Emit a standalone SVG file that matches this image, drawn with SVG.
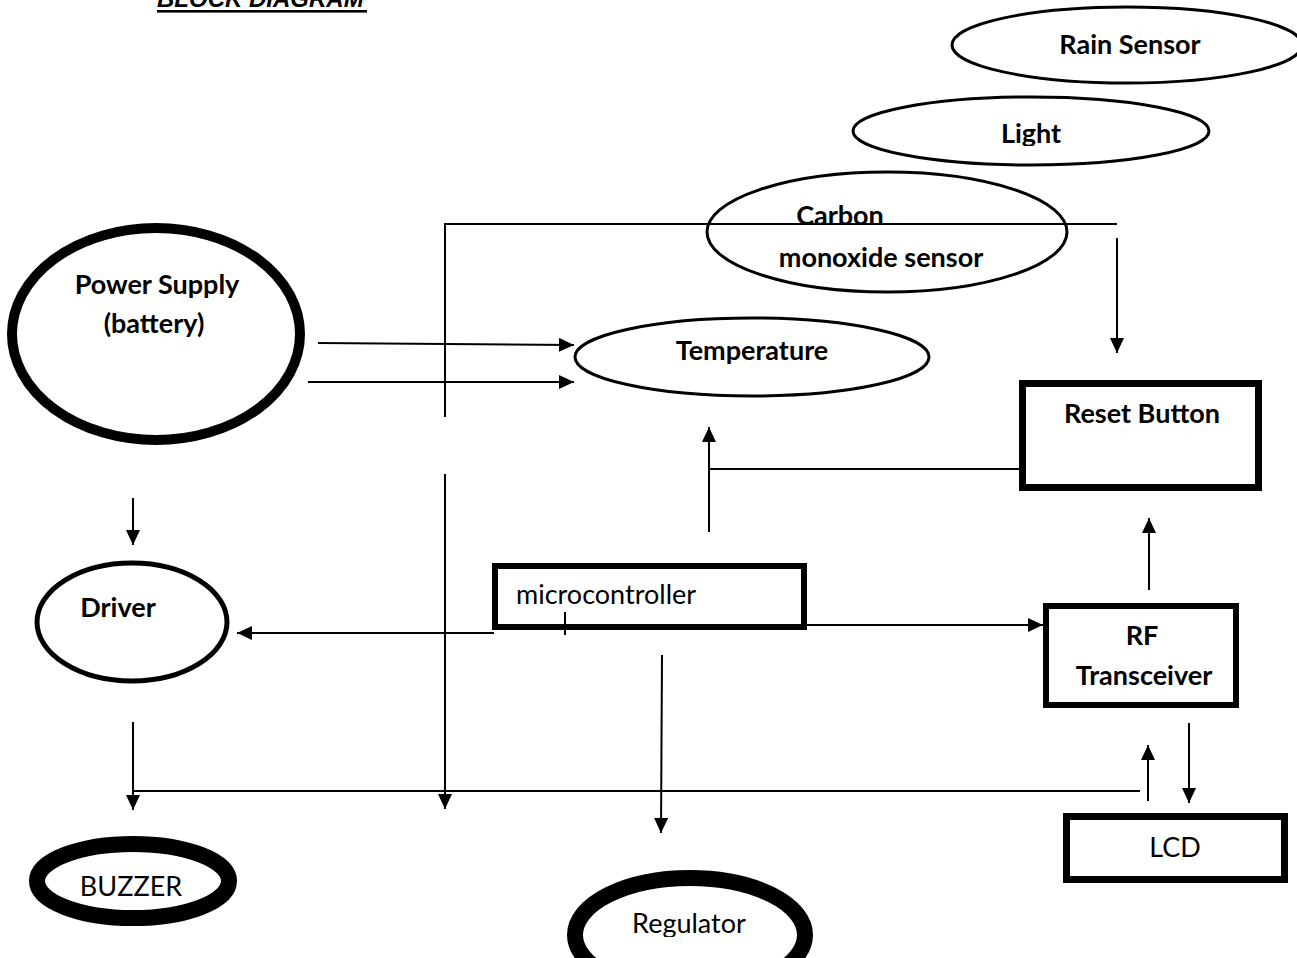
<svg xmlns="http://www.w3.org/2000/svg" width="1297" height="958" viewBox="0 0 1297 958">
<style>
.bg{fill:#fff}
.thin{fill:none;stroke:#000;stroke-width:3}
.mid{fill:none;stroke:#000;stroke-width:5}
.thick{fill:none;stroke:#000;stroke-width:10}
.heavy{fill:none;stroke:#000;stroke-width:16}
.box{fill:none;stroke:#000;stroke-width:6}
.boxh{fill:none;stroke:#000;stroke-width:7}
.con{fill:none;stroke:#000;stroke-width:2}
.arr{marker-end:url(#ah)}
.b{font-family:Lato,"Liberation Sans",sans-serif;font-weight:bold;font-size:27px;fill:#000;text-anchor:middle}
.r{font-family:Lato,"Liberation Sans",sans-serif;font-size:27px;fill:#000;text-anchor:middle}
.title{font-family:"Liberation Sans",Arial,sans-serif;font-weight:bold;font-style:italic;font-size:24px;fill:#000}
</style>
<defs>
<marker id="ah" markerUnits="userSpaceOnUse" markerWidth="16" markerHeight="14" refX="15" refY="7" orient="auto">
<path d="M0,0 L15,7 L0,14 z" fill="#000"/>
</marker>
<clipPath id="cLight"><rect x="850" y="95" width="365" height="51"/></clipPath>
<clipPath id="cCarbon"><rect x="700" y="170" width="370" height="98"/></clipPath>
<clipPath id="cReg"><rect x="560" y="860" width="260" height="77"/></clipPath>
</defs>
<rect class="bg" x="0" y="0" width="1297" height="958"/>

<g id="title">
<text class="title" x="157" y="7">BLOCK DIAGRAM</text>
<rect x="157" y="10" width="210" height="2.6" fill="#000"/>
</g>

<g id="connectors">
<path class="con" d="M445,417 V224 H1117"/>
<line class="con arr" x1="1117" y1="238" x2="1117" y2="353"/>
<line class="con arr" x1="318" y1="343" x2="574" y2="345"/>
<line class="con arr" x1="308" y1="382" x2="574" y2="382"/>
<line class="con arr" x1="445" y1="474" x2="445" y2="809"/>
<line class="con arr" x1="709" y1="532" x2="709" y2="427"/>
<line class="con" x1="709" y1="469" x2="1019" y2="469"/>
<line class="con arr" x1="133" y1="498" x2="133" y2="545"/>
<line class="con arr" x1="494" y1="633" x2="237" y2="633"/>
<line class="con" x1="565" y1="612" x2="565" y2="635"/>
<line class="con arr" x1="807" y1="625" x2="1043" y2="625"/>
<line class="con arr" x1="1149" y1="590" x2="1149" y2="518"/>
<line class="con arr" x1="662" y1="655" x2="661" y2="833"/>
<line class="con arr" x1="133" y1="722" x2="133" y2="810"/>
<line class="con" x1="133" y1="791" x2="1140" y2="791"/>
<line class="con arr" x1="1148" y1="801" x2="1148" y2="745"/>
<line class="con arr" x1="1189" y1="723" x2="1189" y2="803"/>
</g>

<g id="rain-sensor">
<ellipse class="thin" cx="1127" cy="45" rx="175" ry="38"/>
<text class="b" x="1130" y="54">Rain Sensor</text>
</g>

<g id="light">
<ellipse class="thin" cx="1031" cy="131" rx="178" ry="34"/>
<text class="b" x="1031" y="143" clip-path="url(#cLight)">Light</text>
</g>

<g id="carbon-monoxide-sensor">
<ellipse class="thin" cx="887" cy="232" rx="180" ry="60"/>
<g clip-path="url(#cCarbon)">
<text class="b" x="840" y="225">Carbon</text>
<text class="b" x="881" y="267">monoxide sensor</text>
</g>
</g>

<g id="power-supply">
<ellipse class="thick" cx="156" cy="334" rx="144" ry="106"/>
<text class="b" x="157" y="294">Power Supply</text>
<text class="b" x="154" y="333">(battery)</text>
</g>

<g id="temperature">
<ellipse class="thin" cx="752" cy="357" rx="177" ry="39"/>
<text class="b" x="752" y="360">Temperature</text>
</g>

<g id="reset-button">
<rect class="boxh" x="1022.5" y="383.5" width="236" height="104"/>
<text class="b" x="1142" y="423">Reset Button</text>
</g>

<g id="rf-transceiver">
<rect class="box" x="1046" y="606" width="190" height="99"/>
<text class="b" x="1142" y="645">RF</text>
<text class="b" x="1144" y="685">Transceiver</text>
</g>

<g id="lcd">
<rect class="boxh" x="1066.5" y="816.5" width="218" height="63"/>
<text class="r" x="1175" y="857">LCD</text>
</g>

<g id="microcontroller">
<rect class="box" x="495" y="566" width="309" height="61"/>
<text class="r" x="516" y="604" style="text-anchor:start">microcontroller</text>
</g>

<g id="driver">
<ellipse class="mid" cx="132" cy="622" rx="95" ry="59"/>
<text class="b" x="118" y="617">Driver</text>
</g>

<g id="buzzer">
<ellipse class="heavy" cx="133" cy="881" rx="96" ry="37"/>
<text class="r" x="131" y="896">BUZZER</text>
</g>

<g id="regulator">
<ellipse class="heavy" cx="690" cy="935" rx="115" ry="57"/>
<text class="r" x="689" y="933" clip-path="url(#cReg)">Regulator</text>
</g>
</svg>
